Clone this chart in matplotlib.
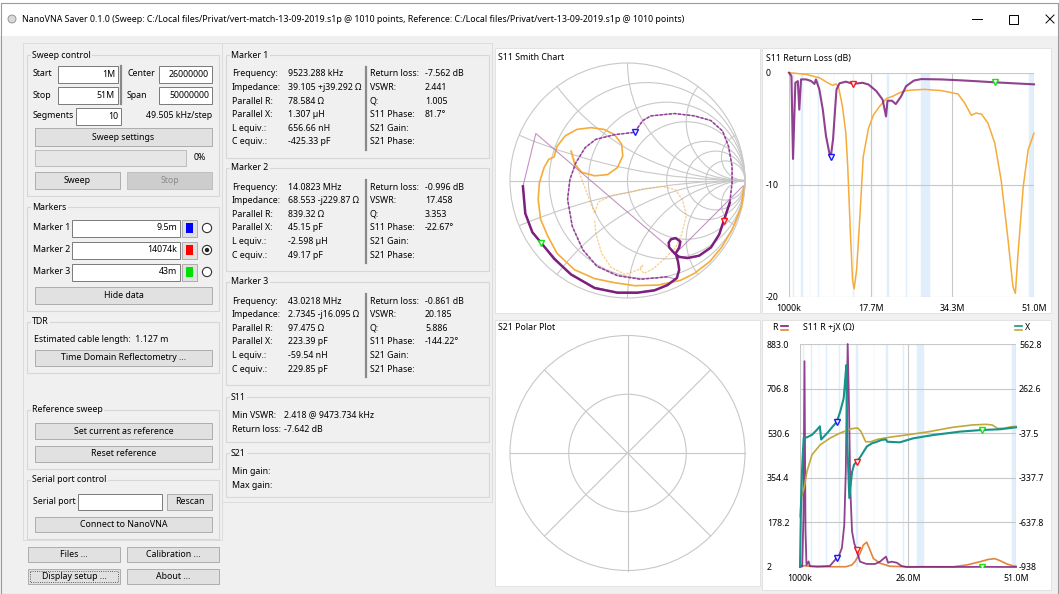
import numpy as np
import matplotlib
matplotlib.use("Agg")
import matplotlib.pyplot as plt
from matplotlib.patches import Rectangle, Circle

plt.rcParams['font.family'] = ['Noto Sans', 'DejaVu Sans']

W, H = 1059, 594
FS = 6.35
BG = "#f0f0f0"
GRID = "#c8c8c8"
BAND = "#e1eefc"
SWEEP = "#7d1f7d"
SWEEP_THIN = "#b37ab3"
REF = "#f5ac3a"
SWEEP_X = "#16938a"
REF_R = "#e3843a"
REF_X = "#c2a838"

# ---------------- values ----------------
title = ("NanoVNA Saver 0.1.0 (Sweep: C:/Local files/Privat/vert-match-13-09-2019.s1p @ 1010 points, "
         "Reference: C:/Local files/Privat/vert-13-09-2019.s1p @ 1010 points)")

sweep_start, sweep_stop = "1M", "51M"
sweep_center, sweep_span = "26000000", "50000000"
sweep_segments = "10"
step_text = "49.505 kHz/step"

marker_names = ["Marker 1", "Marker 2", "Marker 3"]
marker_entry = ["9.5m", "14074k", "43m"]
marker_colors = ["#0000ff", "#ff0000", "#00e000"]
marker_freq = [9.523288, 14.0823, 43.0218]          # MHz
marker_z = [39.105 + 39.292j, 68.553 - 229.87j, 2.7345 - 16.095j]
marker_rl = [-7.562, -0.996, -0.861]

left_labels = ["Frequency:", "Impedance:", "Parallel R:", "Parallel X:", "L equiv.:", "C equiv.:"]
right_labels = ["Return loss:", "VSWR:", "Q:", "S11 Phase:", "S21 Gain:", "S21 Phase:"]
marker_left_vals = [
    ["9523.288 kHz", "39.105 +j39.292 Ω", "78.584 Ω", "1.307 µH", "656.66 nH", "-425.33 pF"],
    ["14.0823 MHz", "68.553 -j229.87 Ω", "839.32 Ω", "45.15 pF", "-2.598 µH", "49.17 pF"],
    ["43.0218 MHz", "2.7345 -j16.095 Ω", "97.475 Ω", "223.39 pF", "-59.54 nH", "229.85 pF"],
]
marker_right_vals = [
    ["-7.562 dB", "2.441", "1.005", "81.7°", "", ""],
    ["-0.996 dB", "17.458", "3.353", "-22.67°", "", ""],
    ["-0.861 dB", "20.185", "5.886", "-144.22°", "", ""],
]
s11_minvswr = "2.418 @ 9473.734 kHz"
s11_rl = "-7.642 dB"

# amateur radio bands shown as light blue stripes (MHz)
bands = [(1.81, 2.0), (3.5, 3.8), (5.3515, 5.3665), (7.0, 7.2), (10.1, 10.15), (14.0, 14.35),
         (18.068, 18.168), (21.0, 21.45), (24.89, 24.99), (28.0, 29.7), (50.0, 52.0)]

# Smith chart grid
smith_r = [0.2, 0.5, 1, 2, 3, 5]
smith_x = [0.2, 0.5, 1, 2, 5, -0.2, -0.5, -1, -2, -5]

# S11 reflection coefficient, sweep (purple)
sweep_re = [0.98, 0.41, -0.78, -0.89,
            -0.87, -0.81, -0.68, -0.51, -0.28, -0.085, 0.085, 0.23, 0.34, 0.41,
            0.34, 0.11, -0.085, -0.26, -0.38, -0.47, -0.51, -0.49, -0.44, -0.36, -0.27, -0.11, 0.06,
            0.13, 0.20, 0.40, 0.57, 0.71, 0.81, 0.86, 0.89, 0.89, 0.87, 0.82,
            0.78, 0.71, 0.61, 0.51, 0.44, 0.40, 0.355, 0.35, 0.37, 0.41, 0.45, 0.44, 0.41, 0.43, 0.44,
            0.42, 0.34, 0.23, 0.085, -0.085, -0.28, -0.48, -0.625, -0.735, -0.81, -0.87, -0.89]
sweep_im = [-0.05, -0.62, 0.40, -0.05,
            -0.28, -0.44, -0.59, -0.78, -0.91, -0.95, -0.95, -0.93, -0.89, -0.84,
            -0.82, -0.84, -0.81, -0.73, -0.59, -0.39, -0.16, 0.01, 0.15, 0.28, 0.35, 0.39, 0.41,
            0.51, 0.55, 0.57, 0.55, 0.51, 0.42, 0.29, 0.12, -0.02, -0.19, -0.34,
            -0.46, -0.57, -0.64, -0.66, -0.65, -0.62, -0.57, -0.53, -0.50, -0.49, -0.52, -0.57, -0.62, -0.69, -0.76,
            -0.83, -0.89, -0.935, -0.955, -0.955, -0.915, -0.80, -0.665, -0.53, -0.44, -0.28, -0.05]

# S11 reflection coefficient, reference (orange)
ref_re = [0.99, 0.97, 0.89, 0.80, 0.70, 0.57, 0.45, 0.26, 0.06, -0.11, -0.28, -0.45, -0.60, -0.68,
          -0.74, -0.76, -0.75, -0.71, -0.67, -0.625, -0.60, -0.53, -0.43, -0.31, -0.20, -0.11, -0.05,
          -0.04, -0.085, -0.17, -0.28, -0.39, -0.45, -0.48,
          -0.28, -0.25, -0.14, 0.0, 0.14, 0.30, 0.41, 0.47, 0.50, 0.46, 0.41, 0.31, 0.22, 0.14, 0.11,
          0.13, 0.09, -0.02, -0.14, -0.22, -0.27, -0.28]
ref_im = [-0.05, -0.22, -0.42, -0.57, -0.69, -0.79, -0.85, -0.89, -0.895, -0.87, -0.835, -0.76, -0.62, -0.47,
          -0.33, -0.16, -0.02, 0.11, 0.18, 0.20, 0.29, 0.38, 0.435, 0.45, 0.435, 0.39, 0.31,
          0.21, 0.11, 0.05, 0.04, 0.07, 0.14, 0.25,
          -0.28, -0.185, -0.13, -0.105, -0.07, -0.05, -0.08, -0.17, -0.30, -0.46, -0.57, -0.67, -0.75, -0.79, -0.76,
          -0.72, -0.76, -0.80, -0.74, -0.62, -0.45, -0.33]

# S11 return loss (dB) vs frequency (MHz)
rl_f_sweep = [1.0, 1.5, 1.82, 2.3, 2.8, 3.1, 3.45, 4.5, 5.5, 6.2, 6.5, 7.2, 7.9, 8.55, 9.2, 9.52, 10.0,
              10.4, 10.7, 11.3, 12.6, 14.08, 16.0, 17.2, 18.8, 20.1, 20.8, 21.1, 22.0, 22.8, 23.9, 24.9,
              26.5, 28.0, 32.0, 36.0, 40.0, 43.02, 47.0, 51.0]
rl_db_sweep = [0.0, -0.3, -7.7, -0.9, -0.75, -3.3, -0.6, -0.6, -0.74, -1.0, -0.6, -1.5, -3.3, -5.65, -7.1,
               -7.56, -5.9, -3.3, -1.5, -0.95, -0.8, -1.0, -0.9, -1.05, -1.63, -2.4, -3.9, -2.5, -2.5, -2.8,
               -2.1, -1.2, -0.7, -0.57, -0.6, -0.68, -0.78, -0.86, -0.95, -1.04]
rl_f_ref = [1.0, 4.5, 7.2, 8.9, 9.9, 10.6, 11.1, 11.9, 12.6, 13.0, 13.5, 13.97, 14.3, 14.8, 15.5, 16.15,
            17.2, 18.2, 19.5, 20.9, 22.2, 23.5, 24.9, 26.0, 28.7, 32.1, 35.5, 36.9, 38.2, 39.2, 40.3, 41.6,
            43.0, 44.3, 45.7, 46.7, 47.2, 47.7, 48.8, 49.8, 51.0]
rl_db_ref = [0.0, -0.15, -0.45, -0.9, -1.13, -1.0, -1.25, -3.0, -5.4, -8.5, -14.0, -18.5, -19.3, -17.6,
             -12.6, -7.5, -5.0, -3.8, -3.0, -2.3, -2.1, -1.8, -1.6, -1.55, -1.49, -1.6, -1.9, -2.74, -3.8,
             -3.6, -3.7, -4.5, -6.3, -9.6, -14.9, -19.1, -19.7, -16.4, -10.2, -6.9, -5.4]
rl_xticks = [1, 17.667, 34.333, 51]
rl_xlabels = ["1000k", "17.7M", "34.3M", "51.0M"]
rl_yticks = [0, -10, -20]
rl_ylabels = ["0", "-10", "-20"]

# S11 R + jX (ohm) vs frequency (MHz)
zr_f = [1.0, 1.5, 1.8, 2.04, 2.27, 2.5, 3.0, 3.3, 5.0, 7.9, 9.17, 9.52, 9.96, 10.7, 11.25, 11.6, 11.8,
        12.04, 12.34, 12.64, 13.04, 13.57, 14.08, 14.9, 16.4, 18.4, 19.5, 20.9, 21.4, 22.2, 23.4, 24.5,
        25.7, 30.0, 35.0, 40.0, 43.02, 47.0, 51.0]
zr_r = [2, 4, 200, 815, 150, 10, 24, 5, 4, 6, 31, 39.1, 44, 77, 169, 380, 643, 883, 643, 314, 143, 95,
        68.6, 23, 14, 14, 23, 43, 19, 23, 19, 6, 2, 2.5, 2.3, 2.2, 2.7, 2.3, 2.0]
zx_f = [1.0, 1.23, 1.46, 1.7, 1.86, 2.62, 3.78, 4.94, 5.6, 5.9, 7.5, 8.5, 9.52, 10.33, 11.12, 11.49,
        11.72, 11.95, 12.41, 13.04, 13.5, 14.08, 14.9, 16.5, 17.7, 18.4, 19.9, 20.9, 21.2, 24.1, 27.2,
        31.8, 38.0, 43.02, 47.3, 51.0]
zx_x = [-938, -519, -294, -150, -70, -65, -48, -14, 9, -80, -30, 5, 39.3, 110, 199, 334, 421, -100,
        -474, -300, -250, -229.9, -200, -126, -105, -99, -83, -79, -95, -99, -72, -50, -27, -16.1, -11, 2]
rr_f = [1.0, 5.0, 10.0, 11.6, 13.0, 13.7, 14.9, 15.66, 16.44, 17.2, 17.97, 19.5, 21.8, 25.0, 30.0,
        36.5, 39.6, 42.7, 44.6, 46.1, 47.3, 48.9, 50.4, 51.0]
rr_r = [8, 3, 3, 3, 10, 23, 56, 89, 100, 69, 36, 17, 5, 3, 3, 3, 10, 23, 32, 35, 27, 14, 6, 5]
rx_f = [1.0, 1.3, 2.0, 2.62, 3.78, 5.7, 8.0, 10.3, 13.0, 14.35, 15.1, 16.2, 17.4, 18.9, 21.6, 25.5,
        30.9, 36.3, 40.9, 44.0, 45.5, 46.7, 48.2, 49.8, 51.0]
rx_x = [-600, -470, -400, -294, -182, -115, -70, -36, -7, -2.5, -25, -95, -95, -79, -65, -50, -27, 2,
        18, 22, 18, -5, -5, 6, 8]
zr_ticks = [2, 178.2, 354.4, 530.6, 706.8, 883.0]
zr_labels = ["2", "178.2", "354.4", "530.6", "706.8", "883.0"]
zx_ticks = [-938, -637.8, -337.7, -37.5, 262.6, 562.8]
zx_labels = ["-938", "-637.8", "-337.7", "-37.5", "262.6", "562.8"]
z_xticks = [1, 26, 51]
z_xlabels = ["1000k", "26.0M", "51.0M"]


# ---------------- helpers (pixel coordinates, y down) ----------------
def px(x0, y0, x1, y1):
    return [x0 / W, 1 - y1 / H, (x1 - x0) / W, (y1 - y0) / H]


fig = plt.figure(figsize=(W / 100, H / 100), dpi=100)
bg = fig.add_axes([0, 0, 1, 1])
bg.set_xlim(0, W)
bg.set_ylim(H, 0)
bg.axis("off")


def rect(x0, y0, x1, y1, fc="none", ec="#adadad", lw=0.7, ls="-", z=1):
    bg.add_patch(Rectangle((x0, y0), x1 - x0, y1 - y0, fc=fc, ec=ec, lw=lw, ls=ls, zorder=z))


def label(x, y, s, ha="left", color="black", size=FS, z=3):
    bg.text(x, y, s, ha=ha, va="center", color=color, fontsize=size, zorder=z)


def button(x0, y0, x1, y1, s, enabled=True):
    rect(x0, y0, x1, y1, fc="#e1e1e1" if enabled else "#cdcdcd", ec="#adadad" if enabled else "#c0c0c0")
    label((x0 + x1) / 2, (y0 + y1) / 2, s, ha="center", color="black" if enabled else "#8a8a8a")


def entry(x0, y0, x1, y1, s=""):
    rect(x0, y0, x1, y1, fc="white", ec="#7a7a7a")
    if s:
        label(x1 - 3, (y0 + y1) / 2, s, ha="right")


def group(x0, y0, x1, y1, name):
    rect(x0, y0, x1, y1, ec="#d7d7d7", lw=0.8)
    bg.text(x0 + 5, y0, name, ha="left", va="center", fontsize=FS, zorder=3,
            bbox=dict(fc=BG, ec="none", pad=1))


# window
bg.add_patch(Rectangle((0, 0), W, H, fc=BG, ec="none", zorder=0))
bg.add_patch(Rectangle((0, 0), W, 36, fc="white", ec="none", zorder=0.1))
rect(0.5, 2.5, W - 1, H - 0.5, ec="#9a9a9a", lw=0.8, z=5)
bg.add_patch(Circle((12, 19), 4, fc="#d8d8d8", ec="#8c8c8c", lw=0.6, zorder=2))
label(22, 19, title, size=6.4)
bg.plot([972, 982], [19, 19], color="black", lw=0.7)
rect(1009, 15, 1018, 24, ec="black", lw=0.7)
bg.plot([1046, 1054], [15, 23], color="black", lw=0.7)
bg.plot([1046, 1054], [23, 15], color="black", lw=0.7)

# left column
rect(23, 43, 222, 540, ec="#dcdcdc")
group(27, 55, 219, 196, "Sweep control")
label(33, 74, "Start")
entry(58, 66, 118, 83, sweep_start)
label(33, 95, "Stop")
entry(58, 87, 118, 104, sweep_stop)
bg.plot([121, 121], [66, 104], color="#8a8a8a", lw=1.6)
label(127, 74, "Center")
entry(159, 66, 212, 83, sweep_center)
label(127, 95, "Span")
entry(159, 87, 212, 104, sweep_span)
label(33, 116, "Segments")
entry(76, 108, 121, 125, sweep_segments)
label(212, 116, step_text, ha="right")
button(35, 128, 212, 146, "Sweep settings")
rect(35, 150, 186, 166, fc="#e6e6e6", ec="#bcbcbc")
label(206, 158, "0%", ha="right")
button(35, 172, 120, 189, "Sweep")
button(127, 172, 212, 189, "Stop", enabled=False)

group(27, 207, 219, 311, "Markers")
for i in range(3):
    y = 228 + 22 * i
    label(33, y, marker_names[i])
    entry(72, y - 8.5, 180, y + 8.5, marker_entry[i])
    rect(182, y - 8.5, 197, y + 8.5, fc="#e1e1e1", ec="#adadad")
    rect(186, y - 5, 193, y + 5, fc=marker_colors[i], ec="none", z=2)
    bg.add_patch(Circle((207, y), 4.6, fc="white", ec="#333333", lw=0.8, zorder=2))
    if i == 1:
        bg.add_patch(Circle((207, y), 2.2, fc="#222222", ec="none", zorder=3))
button(35, 287, 212, 304, "Hide data")

group(27, 322, 219, 373, "TDR")
label(34, 340, "Estimated cable length:  1.127 m")
button(35, 350, 212, 366, "Time Domain Reflectometry ...")

group(27, 410, 219, 469, "Reference sweep")
button(35, 423, 212, 439, "Set current as reference")
button(35, 446, 212, 462, "Reset reference")

group(27, 480, 219, 539, "Serial port control")
label(33, 502, "Serial port")
entry(78, 494, 162, 510)
button(167, 494, 212, 510, "Rescan")
button(35, 517, 212, 532, "Connect to NanoVNA")

button(28, 547, 120, 562, "Files ...")
button(127, 547, 219, 562, "Calibration ...")
button(28, 569, 120, 584, "Display setup ...")
rect(30, 571, 118, 582, ec="#333333", lw=0.6, ls=":", z=2)
button(127, 569, 219, 584, "About ...")

# middle column
rect(222, 43, 492, 502, ec="#dcdcdc")
for m, y0 in enumerate([55, 168, 282]):
    group(226, y0, 489, y0 + 103, marker_names[m])
    for i in range(6):
        y = y0 + 19 + 13.6 * i
        label(232, y, left_labels[i])
        label(288, y, marker_left_vals[m][i])
        label(370, y, right_labels[i])
        label(425, y, marker_right_vals[m][i])
    bg.plot([366, 366], [y0 + 12, y0 + 95], color="#8a8a8a", lw=1.6)
group(226, 397, 489, 442, "S11")
label(232, 415, "Min VSWR:")
label(284, 415, s11_minvswr)
label(232, 429, "Return loss:")
label(284, 429, s11_rl)
group(226, 453, 489, 497, "S21")
label(232, 471, "Min gain:")
label(232, 485, "Max gain:")

# chart panels
rect(495, 48, 760, 313, fc="white", ec="#e2e2e2")
rect(495, 320, 760, 586, fc="white", ec="#e2e2e2")
rect(762, 48, 1051, 313, fc="white", ec="#e2e2e2")
rect(762, 320, 1051, 590, fc="white", ec="#e2e2e2")
label(498, 58, "S11 Smith Chart")
label(498, 328, "S21 Polar Plot")
label(766, 58, "S11 Return Loss (dB)")
label(772, 328, "R")
bg.plot([781, 788], [326, 326], color=SWEEP, lw=1.2)
bg.plot([781, 788], [330, 330], color=REF_R, lw=1.2)
label(803, 328, "S11 R +jX (Ω)")
bg.plot([1015, 1022], [326, 326], color=SWEEP_X, lw=1.2)
bg.plot([1015, 1022], [330, 330], color=REF_X, lw=1.2)
label(1025, 328, "X")

# ---------------- Smith chart ----------------
ax_s = fig.add_axes(px(495, 48, 760, 313))
lim = 132.5 / 117.5
ax_s.set_xlim(-lim, lim)
ax_s.set_ylim(-lim, lim)
ax_s.axis("off")
unit = Circle((0, 0), 1, fc="none", ec=GRID, lw=0.8)
ax_s.add_patch(unit)
ax_s.plot([-1, 1], [0, 0], color=GRID, lw=0.8)
for r in smith_r:
    ax_s.add_patch(Circle((r / (1 + r), 0), 1 / (1 + r), fc="none", ec=GRID, lw=0.8))
for x in smith_x:
    c = Circle((1, 1 / x), abs(1 / x), fc="none", ec=GRID, lw=0.8)
    ax_s.add_patch(c)
    c.set_clip_path(unit)
# reference: dense part drawn solid, sparse part faint
ax_s.plot(ref_re[:34], ref_im[:34], color=REF, lw=1.2)
ax_s.plot(ref_re[33:], ref_im[33:], color=REF, lw=0.9, alpha=0.6, ls=(0, (2, 1)))
# sweep: whole trace thin, dotted mid parts, dense parts bold
ax_s.plot(sweep_re, sweep_im, color=SWEEP_THIN, lw=0.8, alpha=0.8)
ax_s.plot(sweep_re[14:38], sweep_im[14:38], color="#93409a", lw=1.1, ls=(0, (2, 1)))
ax_s.plot(sweep_re[36:], sweep_im[36:], color=SWEEP, lw=1.8)
for z, col in zip(marker_z, marker_colors):
    g = (z - 50) / (z + 50)
    ax_s.plot(g.real, g.imag, "v", color=col, ms=4.2, mfc="white", mew=1.0, alpha=0.9)

# ---------------- S21 polar ----------------
ax_p = fig.add_axes(px(495, 320, 760, 586))
ax_p.set_xlim(-lim, lim)
ax_p.set_ylim(-133 / 117.5, 133 / 117.5)
ax_p.axis("off")
for rad in (1, 0.5):
    ax_p.add_patch(Circle((0, 0), rad, fc="none", ec=GRID, lw=0.8))
for a in np.deg2rad([0, 45, 90, 135]):
    ax_p.plot([-np.cos(a), np.cos(a)], [-np.sin(a), np.sin(a)], color=GRID, lw=0.8)

# ---------------- return loss ----------------
ax_rl = fig.add_axes(px(789, 72.7, 1034, 296.7))
ax_rl.set_xlim(1, 51)
ax_rl.set_ylim(-20, 0)
ax_rl.patch.set_visible(False)
for s in ax_rl.spines.values():
    s.set_visible(False)
for lo, hi in bands:
    ax_rl.axvspan(lo, min(hi, 51), fc=BAND, ec=BAND, lw=0.3, zorder=0.2)
ax_rl.set_xticks(rl_xticks, rl_xlabels)
ax_rl.set_yticks(rl_yticks, rl_ylabels)
ax_rl.grid(True, color=GRID, lw=0.8)
ax_rl.set_axisbelow(True)
ax_rl.tick_params(length=0, labelsize=FS)
ax_rl.tick_params(axis="y", pad=16.6)
ax_rl.tick_params(axis="x", pad=4.9)
for t in ax_rl.get_yticklabels():
    t.set_ha("left")
ax_rl.plot(rl_f_ref, rl_db_ref, color=REF, lw=1.1, clip_on=False)
ax_rl.plot(rl_f_sweep, rl_db_sweep, color=SWEEP, lw=1.5, alpha=0.85, clip_on=False)
for f, v, col in zip(marker_freq, marker_rl, marker_colors):
    ax_rl.plot(f, v, "v", color=col, ms=4.2, mfc="white", mew=1.0, alpha=0.9)

# ---------------- R + jX ----------------
ax_r = fig.add_axes(px(800, 344, 1016, 567))
ax_r.set_xlim(1, 51)
ax_r.set_ylim(2, 883)
ax_r.patch.set_visible(False)
ax_x = ax_r.twinx()
ax_x.set_ylim(-938, 562.8)
for a in (ax_r, ax_x):
    for s in a.spines.values():
        s.set_visible(False)
    a.tick_params(length=0, labelsize=FS)
for lo, hi in bands:
    ax_r.axvspan(lo, min(hi, 51), fc=BAND, ec=BAND, lw=0.3, zorder=0.2)
ax_r.set_xticks(z_xticks, z_xlabels)
ax_r.set_yticks(zr_ticks, zr_labels)
ax_x.set_yticks(zx_ticks, zx_labels)
ax_r.grid(True, color=GRID, lw=0.8)
ax_r.set_axisbelow(True)
ax_r.tick_params(axis="y", pad=23.8)
ax_r.tick_params(axis="x", pad=4.7)
ax_x.tick_params(axis="y", pad=2.2)
for t in ax_r.get_yticklabels():
    t.set_ha("left")
ax_r.plot(rr_f, rr_r, color=REF_R, lw=1.2, clip_on=False)
ax_r.plot(zr_f, zr_r, color=SWEEP, lw=1.3, alpha=0.85, clip_on=False)
ax_x.plot(rx_f, rx_x, color=REF_X, lw=1.2, clip_on=False)
ax_x.plot(zx_f, zx_x, color=SWEEP_X, lw=1.5, clip_on=False)
for f, z, col in zip(marker_freq, marker_z, marker_colors):
    ax_r.plot(f, z.real, "v", color=col, ms=4.2, mfc="white", mew=1.0, alpha=0.9)
    ax_x.plot(f, z.imag, "v", color=col, ms=4.2, mfc="white", mew=1.0, alpha=0.9)

fig.savefig("out.png", dpi=100)
